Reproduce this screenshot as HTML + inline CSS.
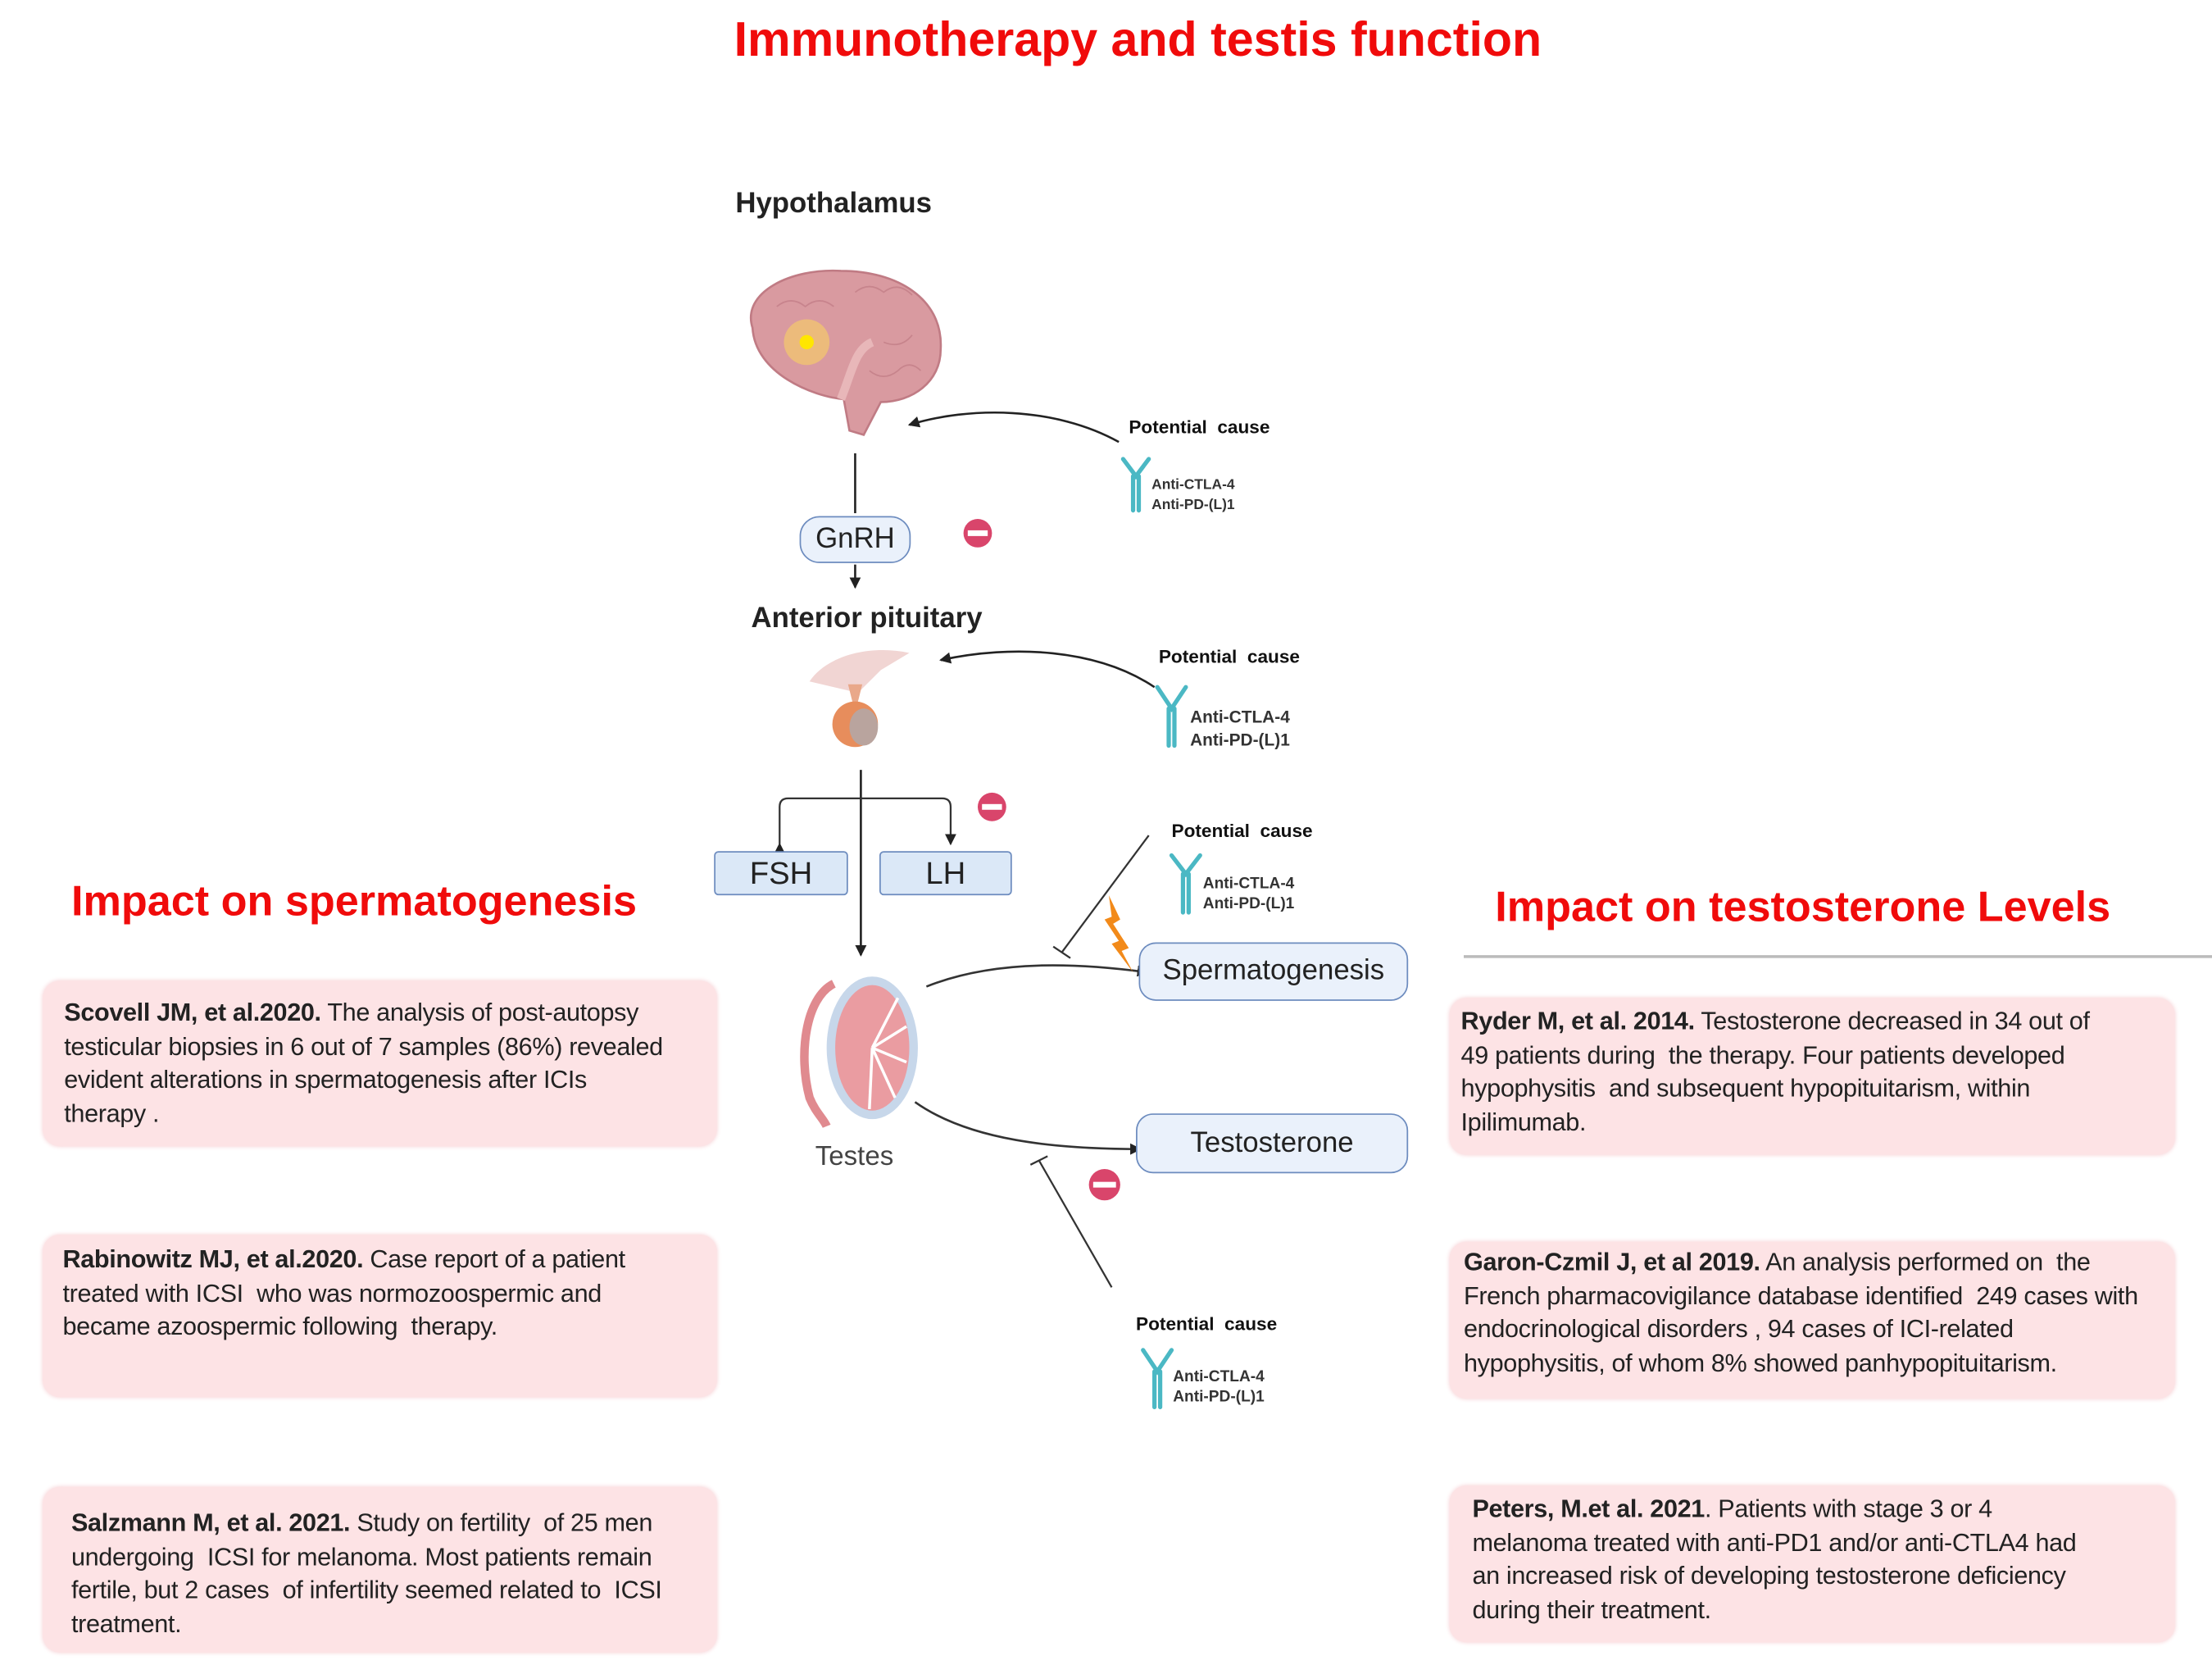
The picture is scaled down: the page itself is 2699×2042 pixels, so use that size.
<!DOCTYPE html>
<html><head><meta charset="utf-8">
<style>
html,body{margin:0;padding:0;background:#fff;width:2699px;height:2041px;overflow:hidden}
#w{position:absolute;left:0;top:0;width:1552px;height:1174px;transform:scale(1.73905);transform-origin:0 0;font-family:"Liberation Sans",sans-serif}
.a{position:absolute;white-space:nowrap}
.red{color:#f00b0b;font-weight:bold}
.box{position:absolute;background:#fde3e5;border-radius:12px;box-shadow:0 0 3px #f6d0d4}
.t{position:absolute;white-space:nowrap;font-size:17.6px;line-height:23.5px;color:#222;letter-spacing:-0.2px}
.lbl{font-weight:bold;color:#222}
.pc{font-weight:bold;font-size:13px;color:#111}
.ab{font-weight:bold;font-size:11px;color:#333;line-height:14px}
</style></head><body><div id="w">
<svg width="1552" height="1174" style="position:absolute;left:0;top:0">
<defs><marker id="ar" markerWidth="8" markerHeight="8" refX="7" refY="4" orient="auto" markerUnits="userSpaceOnUse"><path d="M0,0 L8,4 L0,8 z" fill="#222"/></marker></defs>
<!-- brain -->
<path d="M528,230 C520,205 555,188 590,190 C630,190 662,210 660,245 C660,268 640,282 618,282 L606,305 L596,302 L592,280 C570,278 530,262 528,230 Z" fill="#d99aa0" stroke="#c07b84" stroke-width="1.5"/>
<g stroke="#c07b84" stroke-width="1" fill="none" opacity="0.7"><path d="M545,215 q10,-8 20,0 q10,-8 20,0"/><path d="M600,205 q10,-8 20,0 q10,-8 20,2"/><path d="M620,240 q12,5 20,-5"/><path d="M610,260 q10,8 20,0 q8,-8 16,0"/></g>
<path d="M590,280 C598,260 600,245 612,240" stroke="#e8b7b9" stroke-width="6" fill="none"/>
<circle cx="566" cy="240" r="16" fill="#f3c96b" opacity="0.7"/><circle cx="566" cy="240" r="5" fill="#ffe600"/>
<!-- pituitary -->
<path d="M568,478 C580,460 610,452 638,458 L618,470 L602,486 Z" fill="#f1d5d3"/>
<path d="M595,480 L605,480 L600,500 Z" fill="#e9a88a"/>
<ellipse cx="600" cy="508" rx="16" ry="16" fill="#e78d5c"/><ellipse cx="606" cy="510" rx="10" ry="13" fill="#b9a49e"/>
<!-- testes -->
<path d="M585,690 C565,700 560,740 568,770 C572,780 578,785 580,790" stroke="#e08a8f" stroke-width="6" fill="none"/>
<ellipse cx="612" cy="735" rx="32" ry="50" fill="#c7d7ea"/>
<ellipse cx="612" cy="735" rx="26" ry="44" fill="#ea9ca1"/>
<g stroke="#fff" stroke-width="2"><line x1="612" y1="735" x2="630" y2="700"/><line x1="612" y1="735" x2="636" y2="720"/><line x1="612" y1="735" x2="636" y2="745"/><line x1="612" y1="735" x2="628" y2="770"/><line x1="612" y1="735" x2="610" y2="778"/></g>
<!-- axis lines -->
<line x1="600" y1="318" x2="600" y2="360" stroke="#222" stroke-width="1.5"/>
<line x1="600" y1="396" x2="600" y2="412" stroke="#222" stroke-width="1.5" marker-end="url(#ar)"/>
<line x1="604" y1="540" x2="604" y2="670" stroke="#222" stroke-width="1.5" marker-end="url(#ar)"/>
<path d="M547,592 L547,566 Q547,560 553,560 L661,560 Q667,560 667,566 L667,592" stroke="#333" stroke-width="1.3" fill="none" marker-start="url(#ar)" marker-end="url(#ar)"/>
<path d="M785,310 C740,285 680,285 638,298" stroke="#222" stroke-width="1.5" fill="none" marker-end="url(#ar)"/>
<path d="M810,482 C770,455 710,452 660,463" stroke="#222" stroke-width="1.5" fill="none" marker-end="url(#ar)"/>
<line x1="806" y1="586" x2="745" y2="668" stroke="#333" stroke-width="1.3"/><line x1="739" y1="664" x2="751" y2="672" stroke="#333" stroke-width="1.3"/>
<path d="M650,692 C700,672 760,676 805,682" stroke="#333" stroke-width="1.5" fill="none" marker-end="url(#ar)"/>
<path d="M642,773 C680,800 740,806 800,806" stroke="#333" stroke-width="1.5" fill="none" marker-end="url(#ar)"/>
<line x1="780" y1="903" x2="729" y2="814" stroke="#333" stroke-width="1.3"/><line x1="723" y1="817" x2="735" y2="811" stroke="#333" stroke-width="1.3"/>
<!-- lightning -->
<path d="M778,628 L786,645 L781,648 L792,665 L787,667 L795,682 L780,662 L785,660 L775,645 L780,643 Z" fill="#f28a1a"/>
<!-- minus icons -->
<g fill="#d9456b"><circle cx="686" cy="374" r="10"/><circle cx="696" cy="566" r="10"/><circle cx="775" cy="831" r="11"/></g>
<g fill="#fff"><rect x="679" y="372" width="14" height="4"/><rect x="689" y="564" width="14" height="4"/><rect x="767" y="829" width="16" height="4"/></g>
<!-- antibodies -->
<g stroke="#4bb8c4" stroke-width="3" fill="none" stroke-linecap="round">
<path d="M788,322 L797,334 L806,322 M795,334 L795,358 M799,334 L799,358"/>
<path d="M812,482 L822,497 L832,482 M820,497 L820,523 M824,497 L824,523"/>
<path d="M822,600 L832,613 L842,600 M830,613 L830,640 M834,613 L834,640"/>
<path d="M802,947 L812,962 L822,947 M810,962 L810,987 M814,962 L814,987"/>
</g>
<line x1="1027" y1="671" x2="1552" y2="671" stroke="#bbb" stroke-width="2"/>
</svg>
<div class="a red" style="left:515px;top:9px;font-size:34px">Immunotherapy and testis function</div>
<div class="a lbl" style="left:516px;top:132px;font-size:20px">Hypothalamus</div>
<div class="a lbl" style="left:527px;top:423px;font-size:20px">Anterior pituitary</div>
<div class="a" style="left:561px;top:362px;width:76px;height:31px;border:1.5px solid #6d8cbf;border-radius:14px;background:#eaf1fb;font-size:20px;line-height:31px;text-align:center;color:#222">GnRH</div>
<div class="a" style="left:501px;top:597px;width:92px;height:29px;border:1.5px solid #6d8cbf;border-radius:3px;background:#dbe8f7;font-size:22px;line-height:29px;text-align:center;color:#222">FSH</div>
<div class="a" style="left:617px;top:597px;width:91px;height:29px;border:1.5px solid #6d8cbf;border-radius:3px;background:#dbe8f7;font-size:22px;line-height:29px;text-align:center;color:#222">LH</div>
<div class="a" style="left:799px;top:661px;width:187px;height:39px;border:1.5px solid #6d8cbf;border-radius:12px;background:#eaf1fb;font-size:20px;line-height:39px;text-align:center;color:#222">Spermatogenesis</div>
<div class="a" style="left:797px;top:781px;width:189px;height:40px;border:1.5px solid #6d8cbf;border-radius:12px;background:#eaf1fb;font-size:20px;line-height:40px;text-align:center;color:#222">Testosterone</div>
<div class="a" style="left:572px;top:801px;font-size:19px;color:#444">Testes</div>
<div class="a pc" style="left:792px;top:292px">Potential&nbsp; cause</div>
<div class="a ab" style="left:808px;top:334px;font-size:10px;line-height:14px">Anti-CTLA-4<br>Anti-PD-(L)1</div>
<div class="a pc" style="left:813px;top:453px">Potential&nbsp; cause</div>
<div class="a ab" style="left:835px;top:495px;font-size:12px;line-height:16px">Anti-CTLA-4<br>Anti-PD-(L)1</div>
<div class="a pc" style="left:822px;top:575px">Potential&nbsp; cause</div>
<div class="a ab" style="left:844px;top:613px">Anti-CTLA-4<br>Anti-PD-(L)1</div>
<div class="a pc" style="left:797px;top:921px">Potential&nbsp; cause</div>
<div class="a ab" style="left:823px;top:959px">Anti-CTLA-4<br>Anti-PD-(L)1</div>
<div class="a red" style="left:50px;top:616px;font-size:30px">Impact on spermatogenesis</div>
<div class="a red" style="left:1049px;top:620px;font-size:30px">Impact on testosterone Levels</div>
<div class="box" style="left:30px;top:688px;width:473px;height:116px"></div>
<div class="box" style="left:30px;top:866px;width:473px;height:114px"></div>
<div class="box" style="left:30px;top:1043px;width:473px;height:116px"></div>
<div class="box" style="left:1017px;top:700px;width:509px;height:110px"></div>
<div class="box" style="left:1017px;top:871px;width:509px;height:110px"></div>
<div class="box" style="left:1017px;top:1042px;width:509px;height:110px"></div>
<div class="t" style="left:45px;top:699px"><b>Scovell JM, et al.2020.</b> The analysis of post-autopsy<br>testicular biopsies in 6 out of 7 samples (86%) revealed<br>evident alterations in spermatogenesis after ICIs<br>therapy .</div>
<div class="t" style="left:44px;top:872px"><b>Rabinowitz MJ, et al.2020.</b> Case report of a patient<br>treated with ICSI &nbsp;who was normozoospermic and<br>became azoospermic following &nbsp;therapy.</div>
<div class="t" style="left:50px;top:1057px"><b>Salzmann M, et al. 2021.</b> Study on fertility &nbsp;of 25 men<br>undergoing &nbsp;ICSI for melanoma. Most patients remain<br>fertile, but 2 cases &nbsp;of infertility seemed related to &nbsp;ICSI<br>treatment.</div>
<div class="t" style="left:1025px;top:705px"><b>Ryder M, et al. 2014.</b> Testosterone decreased in 34 out of<br>49 patients during &nbsp;the therapy. Four patients developed<br>hypophysitis &nbsp;and subsequent hypopituitarism, within<br>Ipilimumab.</div>
<div class="t" style="left:1027px;top:874px"><b>Garon-Czmil J, et al 2019.</b> An analysis performed on &nbsp;the<br>French pharmacovigilance database identified &nbsp;249 cases with<br>endocrinological disorders , 94 cases of ICI-related<br>hypophysitis, of whom 8% showed panhypopituitarism.</div>
<div class="t" style="left:1033px;top:1047px"><b>Peters, M.et al. 2021</b>. Patients with stage 3 or 4<br>melanoma treated with anti-PD1 and/or anti-CTLA4 had<br>an increased risk of developing testosterone deficiency<br>during their treatment.</div>
</div></body></html>
